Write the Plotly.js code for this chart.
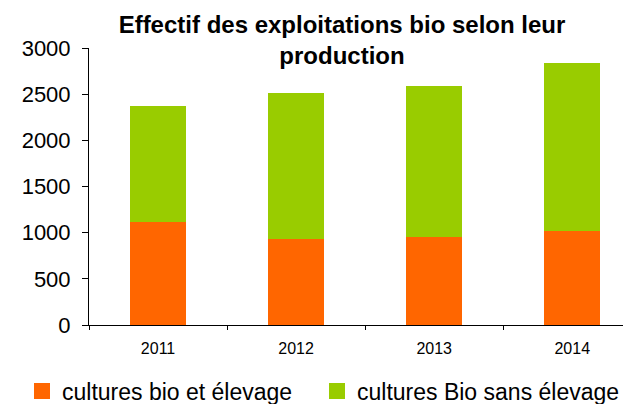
<!DOCTYPE html>
<html>
<head>
<meta charset="utf-8">
<script src="https://cdn.plot.ly/plotly-3.0.1.min.js"></script>
<style>html,body{margin:0;padding:0;background:#fff;}#chart{width:623px;height:404px;}</style>
</head>
<body>
<div id="chart"></div>
<script>
const years = ["2011", "2012", "2013", "2014"];
const avecElevage = [1115, 930, 952, 1017];
const sansElevage = [1260, 1586, 1640, 1824];
const seriesNames = ["cultures bio et élevage", "cultures Bio sans élevage"];
const seriesColors = ["#FF6600", "#99CC00"];
const yTicks = [0, 500, 1000, 1500, 2000, 2500, 3000];
const titleText = "Effectif des exploitations bio selon leur<br>production";

const FONT = "Liberation Sans, Arial, sans-serif";
const W = 623, H = 404;
const plotL = 89.3, plotR = 623, plotT = 48.3, plotB = 324.7;
const legendIds = ["legend", "legend2"];

const barTraces = [avecElevage, sansElevage].map((vals, i) => ({
  type: "bar",
  x: years,
  y: vals,
  name: seriesNames[i],
  marker: { color: seriesColors[i], line: { width: 0 } },
  showlegend: false,
  hoverinfo: "x+y+name"
}));
const legendTraces = seriesNames.map((n, i) => ({
  type: "scatter",
  mode: "markers",
  x: [null],
  y: [null],
  name: n,
  legend: legendIds[i],
  marker: { symbol: "square", size: 16, color: seriesColors[i] },
  showlegend: true,
  hoverinfo: "skip"
}));

function legendBox(xpx) {
  return {
    orientation: "h",
    xref: "container", yref: "container",
    x: xpx / W, xanchor: "left",
    y: (H - 391) / H, yanchor: "middle",
    font: { family: FONT, size: 23, color: "#000" },
    bgcolor: "rgba(0,0,0,0)", borderwidth: 0
  };
}

const layout = {
  width: W, height: H,
  margin: { l: plotL, r: W - plotR, t: plotT, b: H - plotB, pad: 0 },
  paper_bgcolor: "#fff", plot_bgcolor: "#fff",
  font: { family: FONT, color: "#000" },
  barmode: "stack",
  bargap: 0.594,
  title: {
    text: titleText,
    font: { family: FONT, size: 24, color: "#000", weight: "bold" },
    xref: "container", x: 342 / W, xanchor: "center",
    yref: "container", y: 1 - 33 / H, yanchor: "top"
  },
  xaxis: {
    type: "category",
    range: [-0.5, -0.5 + (plotR - plotL) / 138],
    tickson: "boundaries",
    ticks: "outside", ticklen: 4, tickwidth: 1, tickcolor: "#000",
    showline: true, linecolor: "#000", linewidth: 1,
    showgrid: false, zeroline: false,
    ticklabelstandoff: 9,
    tickfont: { family: FONT, size: 16, color: "#000" },
    fixedrange: true
  },
  yaxis: {
    range: [0, 3000],
    tickmode: "array", tickvals: yTicks, ticktext: yTicks.map(String),
    ticks: "outside", ticklen: 6, tickwidth: 1, tickcolor: "#000",
    showline: true, linecolor: "#000", linewidth: 1,
    showgrid: false, zeroline: false,
    ticklabelstandoff: 7,
    tickfont: { family: FONT, size: 22, color: "#000" },
    fixedrange: true
  },
  legend: legendBox(22),
  legend2: legendBox(317),
  showlegend: true
};

Plotly.newPlot("chart", legendTraces.concat(barTraces), layout, { displayModeBar: false, staticPlot: true });
</script>
</body>
</html>
